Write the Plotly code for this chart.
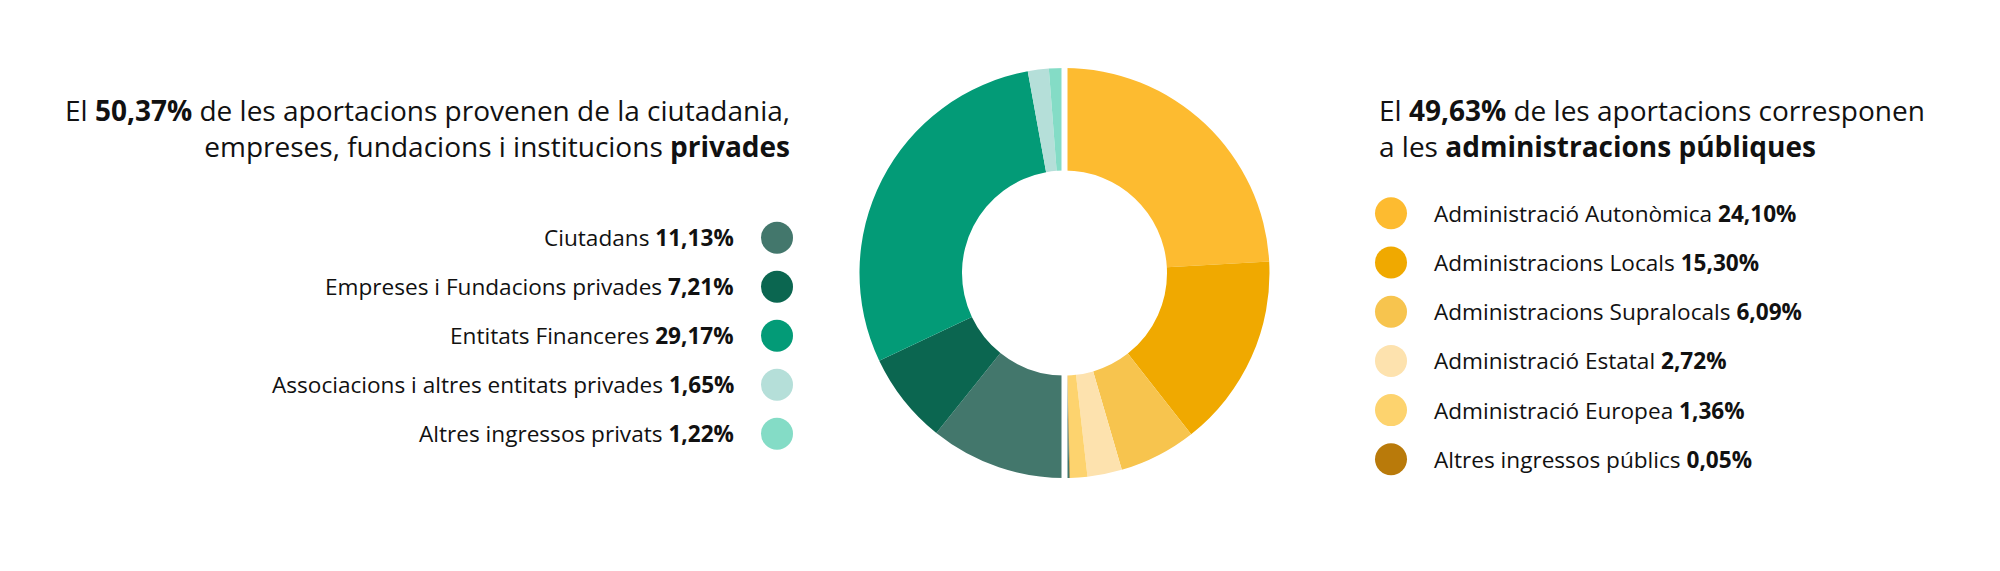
import plotly.graph_objects as go

W, H = 2000, 571

# ---- data ----
private_labels = ["Ciutadans", "Empreses i Fundacions privades", "Entitats Financeres",
                  "Associacions i altres entitats privades", "Altres ingressos privats"]
private_values = [11.13, 7.21, 29.17, 1.65, 1.22]
private_colors = ["#43776C", "#0B6650", "#039B77", "#B5DFD9", "#84DCC6"]

public_labels = ["Administració Autonòmica", "Administracions Locals", "Administracions Supralocals",
                 "Administració Estatal", "Administració Europea", "Altres ingressos públics"]
public_values = [24.10, 15.30, 6.09, 2.72, 1.36, 0.05]
public_colors = ["#FDBB30", "#F0A900", "#F7C44E", "#FDE2AE", "#FDD36E", "#B97A0A"]

private_total = 50.37
public_total = 49.63

FONT = "Open Sans"


def fmt(v):
    return f"{v:.2f}".replace(".", ",") + "%"


# ---- geometry (pixels) ----
cx, cy, R = 1064.5, 273, 205


def px(x):
    return x / W


def py(y):
    return (H - y) / H


fig = go.Figure()

fig.add_trace(go.Pie(
    labels=public_labels + private_labels,
    values=public_values + private_values,
    marker=dict(colors=public_colors + private_colors, line=dict(width=0)),
    hole=0.5,
    sort=False,
    direction="clockwise",
    rotation=0,
    textinfo="none",
    hoverinfo="label+percent",
    showlegend=False,
    domain=dict(x=[px(cx - R), px(cx + R)], y=[py(cy + R), py(cy - R)]),
))

# legend dots on a pixel-mapped hidden axis
n_priv = len(private_labels)
n_pub = len(public_labels)
priv_y = [237.7 + 49 * i for i in range(n_priv)]
pub_y = [213.3 + 49.2 * i for i in range(n_pub)]

fig.add_trace(go.Scatter(
    x=[777] * n_priv, y=priv_y, mode="markers",
    marker=dict(size=32, color=private_colors, line=dict(width=0)),
    hoverinfo="skip", showlegend=False))
fig.add_trace(go.Scatter(
    x=[1391] * n_pub, y=pub_y, mode="markers",
    marker=dict(size=32, color=public_colors, line=dict(width=0)),
    hoverinfo="skip", showlegend=False))

ann = []
# headings
ann.append(dict(
    x=792, y=128, xref="x", yref="y", xanchor="right", yanchor="middle", align="right",
    text=f"El <b>{fmt(private_total)}</b> de les aportacions provenen de la ciutadania,<br>"
         f"empreses, fundacions i institucions <b>privades</b>",
    showarrow=False, font=dict(family=FONT, size=28, color="#111")))
ann.append(dict(
    x=1377, y=128, xref="x", yref="y", xanchor="left", yanchor="middle", align="left",
    text=f"El <b>{fmt(public_total)}</b> de les aportacions corresponen<br>"
         f"a les <b>administracions públiques</b>",
    showarrow=False, font=dict(family=FONT, size=28, color="#111")))

for lab, v, yy in zip(private_labels, private_values, priv_y):
    ann.append(dict(x=736, y=yy, xref="x", yref="y", xanchor="right", yanchor="middle",
                    text=f"{lab} <b>{fmt(v)}</b>", showarrow=False,
                    font=dict(family=FONT, size=22.6, color="#111")))
for lab, v, yy in zip(public_labels, public_values, pub_y):
    ann.append(dict(x=1432, y=yy, xref="x", yref="y", xanchor="left", yanchor="middle",
                    text=f"{lab} <b>{fmt(v)}</b>", showarrow=False,
                    font=dict(family=FONT, size=22.6, color="#111")))

# white gap separating private and public halves
shapes = [dict(type="line", xref="x", yref="y", x0=cx, x1=cx, y0=cy - R - 2, y1=cy + R + 2,
               line=dict(color="white", width=6), layer="above")]

fig.update_layout(
    width=W, height=H,
    margin=dict(l=0, r=0, t=0, b=0),
    paper_bgcolor="white", plot_bgcolor="rgba(0,0,0,0)",
    xaxis=dict(range=[0, W], visible=False, fixedrange=True),
    yaxis=dict(range=[H, 0], visible=False, fixedrange=True),
    annotations=ann, shapes=shapes,
)

fig.write_html("out.html", config={"displayModeBar": False},
               post_script="document.body.style.margin='0';document.body.style.overflow='hidden';")
